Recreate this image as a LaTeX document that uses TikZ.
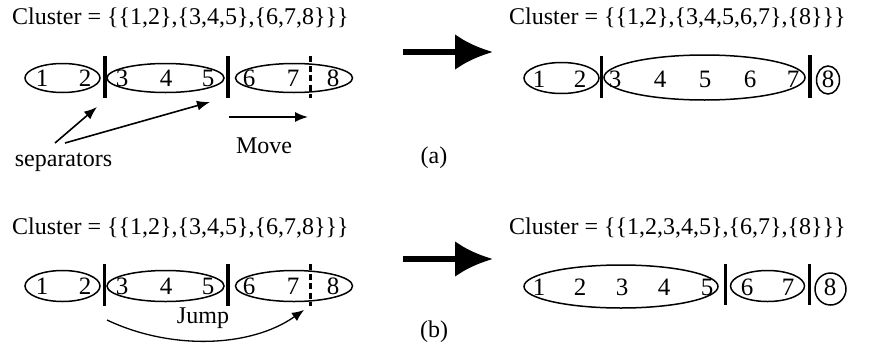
\documentclass[tikz,border=0pt]{standalone}
\usepackage{fontspec}
\setmainfont{Liberation Serif}
\usetikzlibrary{arrows.meta,shapes.geometric}
\begin{document}
\begin{tikzpicture}[x=1pt,y=-1pt,
  grp/.style={draw,ellipse,line width=1.5pt,inner sep=0pt},
  dig/.style={font=\fontsize{25}{25}\selectfont,anchor=base,inner sep=0pt},
  ttl/.style={font=\fontsize{24}{24}\selectfont,anchor=base west,inner sep=0pt},
  lbl/.style={font=\fontsize{24}{24}\selectfont,anchor=base,inner sep=0pt},
  sepline/.style={line width=3.3pt},
  dsep/.style={line width=3pt,dash pattern=on 6pt off 3.5pt},
  thinarr/.style={line width=1.6pt,-{Latex[length=13pt,width=10pt]}},
  bigarr/.style={line width=6.5pt,-{Latex[length=38pt,width=36pt]}}]
\useasboundingbox (0,0) rectangle (877,351);

% ===== (a) left =====
\node[ttl] (ta) at (12,24) {Cluster = \{\{1,2\},\{3,4,5\},\{6,7,8\}\}\}};
\node[grp,minimum width=75pt,minimum height=29pt] (a1) at (62.5,78) {};
\node[grp,minimum width=117pt,minimum height=29pt] (a2) at (165.5,78) {};
\node[grp,minimum width=117pt,minimum height=29pt] (a3) at (294,78) {};
\foreach \x/\d/\n in {42/1/1,85/2/2,122/3/3,166/4/4,208/5/5,249/6/6,293/7/7,333/8/8}
  \node[dig] (ad\n) at (\x,86.5) {\d};
\coordinate (as1t) at (105,56); \coordinate (as1b) at (105,98);
\coordinate (as2t) at (228,56); \coordinate (as2b) at (228,98);
\coordinate (adst) at (310,56); \coordinate (adsb) at (310,98);
\draw[sepline] (as1t) -- (as1b);
\draw[sepline] (as2t) -- (as2b);
\draw[dsep] (adst) -- (adsb);
\node[lbl] (sep) at (63.5,166) {separators};
\coordinate (p1s) at (55,143); \coordinate (p1e) at (97,107);
\coordinate (p2s) at (65,143); \coordinate (p2e) at (210,102);
\draw[thinarr] (p1s) -- (p1e);
\draw[thinarr] (p2s) -- (p2e);
\coordinate (mvs) at (229,117); \coordinate (mve) at (308,117);
\draw[thinarr] (mvs) -- (mve);
\node[lbl] (move) at (264,153) {Move};
\node[lbl] (la) at (434,163) {(a)};
\coordinate (ba1) at (403,52); \coordinate (ba2) at (493,52);
\draw[bigarr] (ba1) -- (ba2);

% ===== (a) right =====
\node[ttl] (tar) at (509,24) {Cluster = \{\{1,2\},\{3,4,5,6,7\},\{8\}\}\}};
\node[grp,minimum width=75pt,minimum height=31pt] (b1) at (561.5,78) {};
\node[grp,minimum width=201pt,minimum height=45pt] (b2) at (704.5,77.5) {};
\node[grp,minimum width=23pt,minimum height=28pt] (b3) at (828,80) {};
\foreach \x/\d in {539/1,580/2,615/3,660/4,705/5,750/6,793/7,828/8}
  \node[dig] (bd\d) at (\x,87.5) {\d};
\coordinate (bs1t) at (601.5,56); \coordinate (bs1b) at (601.5,98);
\coordinate (bs2t) at (810,55); \coordinate (bs2b) at (810,98);
\draw[sepline] (bs1t) -- (bs1b);
\draw[sepline] (bs2t) -- (bs2b);

% ===== (b) left =====
\node[ttl] (tb) at (12,234) {Cluster = \{\{1,2\},\{3,4,5\},\{6,7,8\}\}\}};
\node[grp,minimum width=75pt,minimum height=31pt] (c1) at (62.5,286) {};
\node[grp,minimum width=117pt,minimum height=31pt] (c2) at (165.5,286) {};
\node[grp,minimum width=117pt,minimum height=31pt] (c3) at (294,286) {};
\foreach \x/\d in {42/1,85/2,122/3,166/4,208/5,249/6,293/7,333/8}
  \node[dig] (cd\d) at (\x,294.5) {\d};
\coordinate (cs1t) at (104.5,264); \coordinate (cs1b) at (104.5,306);
\coordinate (cs2t) at (228,264); \coordinate (cs2b) at (228,306);
\coordinate (cdst) at (310,264); \coordinate (cdsb) at (310,306);
\draw[sepline] (cs1t) -- (cs1b);
\draw[sepline] (cs2t) -- (cs2b);
\draw[dsep] (cdst) -- (cdsb);
\coordinate (js) at (107,320); \coordinate (je) at (304,310);
\draw[line width=1.3pt,-{Latex[length=12pt,width=10pt]}] (js) .. controls (170,350) and (250,348) .. (je);
\node[lbl] (jump) at (203,323) {Jump};
\node[lbl] (lb) at (434,337) {(b)};
\coordinate (bb1) at (403,259); \coordinate (bb2) at (493,259);
\draw[bigarr] (bb1) -- (bb2);

% ===== (b) right =====
\node[ttl] (tbr) at (509,234) {Cluster = \{\{1,2,3,4,5\},\{6,7\},\{8\}\}\}};
\node[grp,minimum width=194pt,minimum height=43pt] (d1) at (621,286.5) {};
\node[grp,minimum width=74pt,minimum height=31pt] (d2) at (767.5,286) {};
\node[grp,minimum width=31pt,minimum height=32pt] (d3) at (830.5,289) {};
\foreach \x/\d in {539/1,580/2,622/3,664/4,707/5,747/6,788/7,830/8}
  \node[dig] (dd\d) at (\x,295.5) {\d};
\coordinate (ds1t) at (725.5,264); \coordinate (ds1b) at (725.5,305);
\coordinate (ds2t) at (809.5,264); \coordinate (ds2b) at (809.5,305);
\draw[sepline] (ds1t) -- (ds1b);
\draw[sepline] (ds2t) -- (ds2b);
\end{tikzpicture}
\end{document}
